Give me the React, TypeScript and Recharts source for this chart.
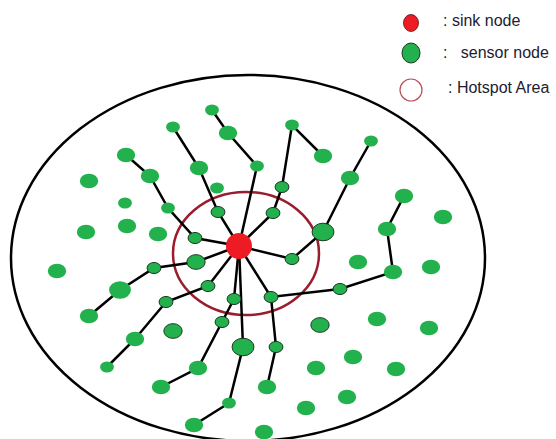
import React from "react";
import {
  ScatterChart,
  Scatter,
  XAxis,
  YAxis,
  ZAxis,
  ReferenceArea,
} from "recharts";

// sensor nodes: id, position, relative size (1 small .. 3 large)
const sensorNodes = [
  { id: "a1", x: 212, y: 110, z: 1 },
  { id: "a2", x: 228, y: 133, z: 2 },
  { id: "a3", x: 257, y: 166, z: 1 },
  { id: "b1", x: 173, y: 127, z: 1 },
  { id: "b2", x: 199, y: 168, z: 2 },
  { id: "b3", x: 218, y: 212, z: 1 },
  { id: "c1", x: 126, y: 155, z: 2 },
  { id: "c2", x: 150, y: 176, z: 2 },
  { id: "c3", x: 168, y: 208, z: 1 },
  { id: "c4", x: 195, y: 238, z: 1 },
  { id: "d0", x: 292, y: 125, z: 1 },
  { id: "d1", x: 323, y: 156, z: 2 },
  { id: "d2", x: 282, y: 187, z: 1 },
  { id: "d3", x: 273, y: 213, z: 1 },
  { id: "e1", x: 371, y: 141, z: 1 },
  { id: "e2", x: 350, y: 178, z: 2 },
  { id: "e3", x: 323, y: 232, z: 3 },
  { id: "e4", x: 292, y: 259, z: 1 },
  { id: "f1", x: 404, y: 196, z: 2 },
  { id: "f2", x: 387, y: 229, z: 2 },
  { id: "f3", x: 393, y: 272, z: 2 },
  { id: "f4", x: 340, y: 289, z: 1 },
  { id: "f5", x: 271, y: 297, z: 1 },
  { id: "f6", x: 276, y: 347, z: 1 },
  { id: "f7", x: 267, y: 387, z: 2 },
  { id: "g1", x: 89, y: 316, z: 2 },
  { id: "g2", x: 120, y: 290, z: 3 },
  { id: "g3", x: 154, y: 268, z: 1 },
  { id: "g4", x: 196, y: 262, z: 2 },
  { id: "h1", x: 107, y: 367, z: 1 },
  { id: "h2", x: 135, y: 339, z: 2 },
  { id: "h3", x: 166, y: 302, z: 1 },
  { id: "h4", x: 208, y: 286, z: 1 },
  { id: "i1", x: 161, y: 387, z: 2 },
  { id: "i2", x: 198, y: 368, z: 2 },
  { id: "i3", x: 222, y: 322, z: 1 },
  { id: "i4", x: 234, y: 299, z: 1 },
  { id: "j1", x: 194, y: 425, z: 2 },
  { id: "j2", x: 229, y: 403, z: 1 },
  { id: "j3", x: 243, y: 347, z: 3 },
  // unconnected nodes
  { id: "n1", x: 217, y: 188, z: 1 },
  { id: "n2", x: 89, y: 181, z: 2 },
  { id: "n3", x: 125, y: 203, z: 1 },
  { id: "n4", x: 127, y: 226, z: 2 },
  { id: "n5", x: 158, y: 234, z: 2 },
  { id: "n6", x: 86, y: 232, z: 2 },
  { id: "n7", x: 57, y: 271, z: 2 },
  { id: "n8", x: 443, y: 217, z: 2 },
  { id: "n9", x: 173, y: 331, z: 2 },
  { id: "n10", x: 264, y: 432, z: 2 },
  { id: "n11", x: 358, y: 262, z: 2 },
  { id: "n12", x: 431, y: 267, z: 2 },
  { id: "n13", x: 320, y: 325, z: 2 },
  { id: "n14", x: 377, y: 319, z: 2 },
  { id: "n15", x: 429, y: 328, z: 2 },
  { id: "n16", x: 353, y: 357, z: 2 },
  { id: "n17", x: 316, y: 368, z: 2 },
  { id: "n18", x: 396, y: 369, z: 2 },
  { id: "n19", x: 347, y: 397, z: 2 },
  { id: "n20", x: 306, y: 408, z: 2 },
];

const outlinedIds = [
  "b3", "c4", "d2", "d3", "e3", "e4", "f4", "f5", "f6",
  "g3", "g4", "h3", "h4", "i3", "i4", "j3", "n9", "n13",
];

const sinkNode = { id: "S", x: 239, y: 246 };

// routing paths towards the sink
const chains = [
  ["a1", "a2", "a3", "S"],
  ["b1", "b2", "b3", "S"],
  ["c1", "c2", "c3", "c4", "S"],
  ["d1", "d0", "d2", "d3", "S"],
  ["e1", "e2", "e3", "e4", "S"],
  ["f1", "f2", "f3", "f4", "f5", "S"],
  ["f5", "f6", "f7"],
  ["g1", "g2", "g3", "g4", "S"],
  ["h1", "h2", "h3", "h4", "S"],
  ["i1", "i2", "i3", "i4", "S"],
  ["j1", "j2", "j3", "S"],
];

// network field and hotspot region (x1, x2, y1, y2)
const fieldArea = { x1: 11, x2: 485, y1: 75, y2: 441 };
const hotspotArea = { x1: 173, x2: 319, y1: 192, y2: 315 };

const legendItems = [
  { label: ": sink node" },
  { label: ":   sensor node" },
  { label: ": Hotspot Area" },
];

const W = 556;
const H = 439;
const GREEN = "#22b14c";

const byId = (id: string) =>
  id === "S" ? sinkNode : sensorNodes.find((n) => n.id === id)!;

const EllipseShape = (stroke: string, strokeWidth: number) => (props: any) => {
  const { x, y, width, height } = props;
  return (
    <ellipse
      cx={x + width / 2}
      cy={y + height / 2}
      rx={Math.abs(width) / 2}
      ry={Math.abs(height) / 2}
      fill="none"
      stroke={stroke}
      strokeWidth={strokeWidth}
    />
  );
};

const NodeShape = (props: any) => {
  const { cx, cy, width, payload } = props;
  const r = width / 2;
  const outlined = outlinedIds.includes(payload.id);
  return (
    <ellipse
      cx={cx}
      cy={cy}
      rx={r * 1.12}
      ry={r * 0.9}
      fill={GREEN}
      stroke={outlined ? "#1b3a22" : "none"}
      strokeWidth={outlined ? 1 : 0}
    />
  );
};

const SinkShape = (props: any) => {
  const { cx, cy } = props;
  return <circle cx={cx} cy={cy} r={13} fill="#ed1c24" />;
};

const Legend = () => (
  <svg
    width={W}
    height={110}
    style={{ position: "absolute", left: 0, top: 0, pointerEvents: "none" }}
  >
    <ellipse cx={411} cy={23} rx={7.5} ry={8.5} fill="#ed1c24" stroke="#5a1010" strokeWidth={0.8} />
    <ellipse cx={411} cy={53} rx={9} ry={10} fill={GREEN} stroke="#1b3a22" strokeWidth={1} />
    <circle cx={411} cy={90} r={11} fill="none" stroke="#b8505c" strokeWidth={1.2} />
    {legendItems.map((item, i) => (
      <text
        key={item.label}
        x={i === 2 ? 448 : 443}
        y={[26, 58, 93][i]}
        fontFamily="'Liberation Sans', Arial, sans-serif"
        fontSize={16}
        fill="#1e2030"
        style={{ whiteSpace: "pre" }}
      >
        {item.label}
      </text>
    ))}
  </svg>
);

export default function App() {
  return (
    <div style={{ position: "absolute", left: 0, top: 0, width: W, height: H, background: "#fff" }}>
      <ScatterChart width={W} height={H} margin={{ top: 0, right: 0, bottom: 0, left: 0 }}>
        <XAxis type="number" dataKey="x" domain={[0, W]} hide />
        <YAxis type="number" dataKey="y" domain={[0, H]} reversed hide width={0} />
        <ZAxis type="number" dataKey="z" domain={[1, 3]} range={[120, 300]} />
        <ReferenceArea
          {...fieldArea}
          ifOverflow="visible"
          shape={EllipseShape("#000", 2.5)}
        />
        <ReferenceArea
          {...hotspotArea}
          ifOverflow="visible"
          shape={EllipseShape("#9b1c2c", 2.5)}
        />
        {chains.map((chain, i) => (
          <Scatter
            key={`chain-${i}`}
            data={chain.map(byId)}
            line={{ stroke: "#000", strokeWidth: 2.5 }}
            lineJointType="linear"
            shape={() => <g />}
            isAnimationActive={false}
          />
        ))}
        <Scatter data={sensorNodes} shape={NodeShape} isAnimationActive={false} />
        <Scatter data={[sinkNode]} shape={SinkShape} isAnimationActive={false} />
      </ScatterChart>
      <Legend />
    </div>
  );
}
